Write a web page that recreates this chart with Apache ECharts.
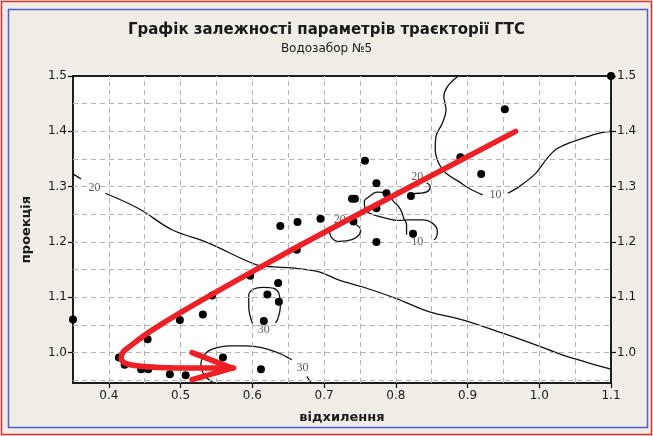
<!DOCTYPE html>
<html>
<head>
<meta charset="utf-8">
<script src="https://cdn.jsdelivr.net/npm/echarts@6/dist/echarts.min.js"></script>
<style>
html,body{margin:0;padding:0;background:#efede6;}
#c{width:653px;height:436px;}
</style>
</head>
<body>
<div id="c"></div>
<script>
// ---- axis setup ----
const xMin = 0.35, xMax = 1.1;
const yMin = 0.945, yMax = 1.5;
const xTickValues = [0.4, 0.5, 0.6, 0.7, 0.8, 0.9, 1.0, 1.1];
const yTickValues = [1.0, 1.1, 1.2, 1.3, 1.4, 1.5];
const xGridValues = [0.4, 0.45, 0.5, 0.55, 0.6, 0.65, 0.7, 0.75, 0.8, 0.85, 0.9, 0.95, 1.0, 1.05];
const yGridValues = [0.95, 1.0, 1.05, 1.1, 1.15, 1.2, 1.25, 1.3, 1.35, 1.4, 1.45];

// ---- observed points (відхилення, проекція) ----
const wellPoints = [
  [0.35,1.060],[0.414,0.991],[0.422,0.978],[0.445,0.970],[0.455,0.970],[0.454,1.024],
  [0.485,0.961],[0.507,0.959],[0.499,1.059],[0.531,1.069],[0.544,1.103],[0.559,0.991],
  [0.612,0.970],[0.597,1.139],[0.621,1.105],[0.636,1.126],[0.637,1.092],[0.616,1.057],
  [0.662,1.186],[0.639,1.229],[0.663,1.236],[0.695,1.242],[0.739,1.278],[0.743,1.278],
  [0.757,1.347],[0.773,1.306],[0.787,1.288],[0.773,1.261],[0.741,1.237],[0.773,1.200],
  [0.821,1.283],[0.824,1.215],[0.952,1.440],[0.890,1.353],[0.919,1.323],[1.1,1.5]
];

// ---- contour lines ----
const contour20Left = [[0.35,1.323],[0.361,1.314]];
const contour20Main = [
  [0.395,1.288],[0.442,1.260],[0.488,1.222],[0.539,1.198],[0.605,1.159],[0.630,1.155],
  [0.655,1.153],[0.693,1.146],[0.721,1.131],[0.753,1.119],[0.800,1.098],[0.846,1.074],
  [0.893,1.059],[0.949,1.035],[0.995,1.014],[1.032,0.996],[1.1,0.970]
];
const contour30Loop = [
  [0.600,1.053],[0.595,1.083],[0.595,1.104],[0.602,1.115],[0.614,1.118],[0.630,1.116],
  [0.637,1.107],[0.639,1.083],[0.635,1.059],[0.632,1.054]
];
const contour30ArcA = [
  [0.546,0.945],[0.534,0.958],[0.528,0.976],[0.531,0.992],[0.539,1.003],[0.551,1.009],
  [0.567,1.012],[0.591,1.012],[0.613,1.009],[0.637,0.999],[0.655,0.987]
];
const contour30ArcB = [[0.676,0.957],[0.682,0.945]];
const contour10TopA = [
  [0.887,1.500],[0.872,1.481],[0.867,1.463],[0.870,1.439],[0.865,1.415],[0.856,1.391],
  [0.855,1.367],[0.860,1.342],[0.870,1.324],[0.888,1.309],[0.902,1.297],[0.921,1.285]
];
const contour10TopB = [
  [0.956,1.288],[0.972,1.300],[0.995,1.324],[1.009,1.348],[1.023,1.367],[1.042,1.379],
  [1.069,1.391],[1.088,1.398],[1.1,1.400]
];
const contour10Mid = [
  [0.815,1.213],[0.815,1.231],[0.811,1.243],[0.809,1.252],[0.804,1.264],[0.797,1.273],
  [0.788,1.288],[0.774,1.290],[0.763,1.282],[0.756,1.273],[0.758,1.258],[0.763,1.252],
  [0.786,1.243],[0.804,1.239],[0.818,1.240],[0.837,1.240],[0.851,1.234],[0.858,1.219],
  [0.856,1.207],[0.853,1.204]
];
const contour20MidA = [[0.821,1.287],[0.832,1.288],[0.844,1.291],[0.848,1.300],[0.843,1.307]];
const contour20MidB = [
  [0.707,1.222],[0.711,1.207],[0.721,1.201],[0.739,1.204],[0.749,1.213],[0.751,1.222],[0.745,1.231]
];
const contourLabels = [
  [0.380,1.298,'20'],[0.616,1.041,'30'],[0.670,0.972,'30'],[0.939,1.285,'10'],
  [0.830,1.201,'10'],[0.830,1.318,'20'],[0.722,1.240,'20']
];

// ---- red trajectory arrow ----
const trajectory = [
  [0.967,1.400],[0.707,1.222],[0.605,1.150],[0.498,1.071],[0.456,1.037],[0.432,1.014],
  [0.420,1.001],[0.417,0.990],[0.422,0.981],[0.439,0.976],[0.470,0.973],[0.526,0.972],[0.574,0.972]
];
const arrowHead = [[0.516,1.000],[0.572,0.972],[0.516,0.951]];

const chart = echarts.init(document.getElementById('c'), null, {renderer:'canvas'});
const txt = '#1a1a1a';
const axisFont = 'DejaVu Sans';

function contourSeries(data){
  return {type:'line', data:data, smooth:0.35, symbol:'none', clip:true, z:3,
    lineStyle:{color:'#111', width:1.3}, silent:true};
}

const series = [
  {type:'line', data:[], symbol:'none', z:1, silent:true,
   markLine:{silent:true, symbol:'none', label:{show:false},
     lineStyle:{color:'#b4b4b4', type:[5,4], width:1},
     data: xGridValues.map(v=>({xAxis:v})).concat(yGridValues.map(v=>({yAxis:v})))
   }},
  contourSeries(contour20Left),
  contourSeries(contour20Main),
  contourSeries(contour30Loop),
  contourSeries(contour30ArcA),
  contourSeries(contour30ArcB),
  contourSeries(contour10TopA),
  contourSeries(contour10TopB),
  contourSeries(contour10Mid),
  contourSeries(contour20MidA),
  contourSeries(contour20MidB),
  {type:'scatter', data:contourLabels.map(d=>[d[0],d[1],d[2]]), symbolSize:0, z:4, silent:true,
   label:{show:true, position:'inside', formatter:p=>p.data[2], fontFamily:'Liberation Serif',
     fontSize:12, color:'#333'}},
  {type:'scatter', data:wellPoints, symbol:'circle', symbolSize:8, clip:false, z:5,
   itemStyle:{color:'#000', opacity:1}},
  {type:'line', data:trajectory, smooth:0.3, symbol:'none', z:6,
   lineStyle:{color:'#ee2026', width:5.5, cap:'round', join:'round'}},
  {type:'line', data:arrowHead, symbol:'none', z:6,
   lineStyle:{color:'#ee2026', width:5.5, cap:'round', join:'round'}}
];

chart.setOption({
  animation:false,
  backgroundColor:'#efede6',
  title:[
    {text:'Графік залежності параметрів траєкторії ГТС', left:'center', top:18,
     textStyle:{fontFamily:axisFont, fontWeight:'bold', fontSize:15, color:txt}},
    {text:'Водозабор №5', left:'center', top:38,
     textStyle:{fontFamily:axisFont, fontWeight:'normal', fontSize:12, color:txt}}
  ],
  graphic:[
    {type:'rect', shape:{x:1.5,y:1.5,width:650,height:433}, style:{fill:'none', stroke:'#e03030', lineWidth:1.5}, silent:true},
    {type:'rect', shape:{x:8.5,y:9.5,width:639,height:418}, style:{fill:'none', stroke:'#5060d0', lineWidth:1.5}, silent:true}
  ],
  grid:{left:73, top:76, width:538, height:307, show:true, backgroundColor:'#ffffff',
        borderColor:'#111', borderWidth:1.5},
  xAxis:[
    {type:'value', min:xMin, max:xMax, position:'bottom',
     name:'відхилення', nameLocation:'middle', nameGap:28,
     nameTextStyle:{fontFamily:axisFont, fontWeight:'bold', fontSize:13, color:txt},
     axisLine:{show:true, onZero:false, lineStyle:{color:'#111', width:1.5}},
     axisTick:{show:true, customValues:xTickValues, length:5, lineStyle:{color:'#111', width:1.2}},
     axisLabel:{show:true, customValues:xTickValues, formatter:v=>Number(v).toFixed(1),
       fontFamily:axisFont, fontSize:12, color:txt, margin:7},
     splitLine:{show:false}},
    {type:'value', min:xMin, max:xMax, position:'top',
     axisLine:{show:true, onZero:false, lineStyle:{color:'#111', width:1.5}},
     axisTick:{show:false}, axisLabel:{show:false}, splitLine:{show:false}}
  ],
  yAxis:[
    {type:'value', min:yMin, max:yMax, position:'left',
     name:'проекція', nameLocation:'middle', nameGap:40,
     nameTextStyle:{fontFamily:axisFont, fontWeight:'bold', fontSize:13, color:txt},
     axisLine:{show:true, onZero:false, lineStyle:{color:'#111', width:1.5}},
     axisTick:{show:true, customValues:yTickValues, length:5, lineStyle:{color:'#111', width:1.2}},
     axisLabel:{show:true, customValues:yTickValues, formatter:v=>Number(v).toFixed(1),
       fontFamily:axisFont, fontSize:12, color:txt, margin:6},
     splitLine:{show:false}},
    {type:'value', min:yMin, max:yMax, position:'right',
     axisLine:{show:true, onZero:false, lineStyle:{color:'#111', width:1.5}},
     axisTick:{show:true, customValues:yTickValues, length:5, lineStyle:{color:'#111', width:1.2}},
     axisLabel:{show:true, customValues:yTickValues, formatter:v=>Number(v).toFixed(1),
       fontFamily:axisFont, fontSize:12, color:txt, margin:6},
     splitLine:{show:false}}
  ],
  series:series
});
</script>
</body>
</html>
